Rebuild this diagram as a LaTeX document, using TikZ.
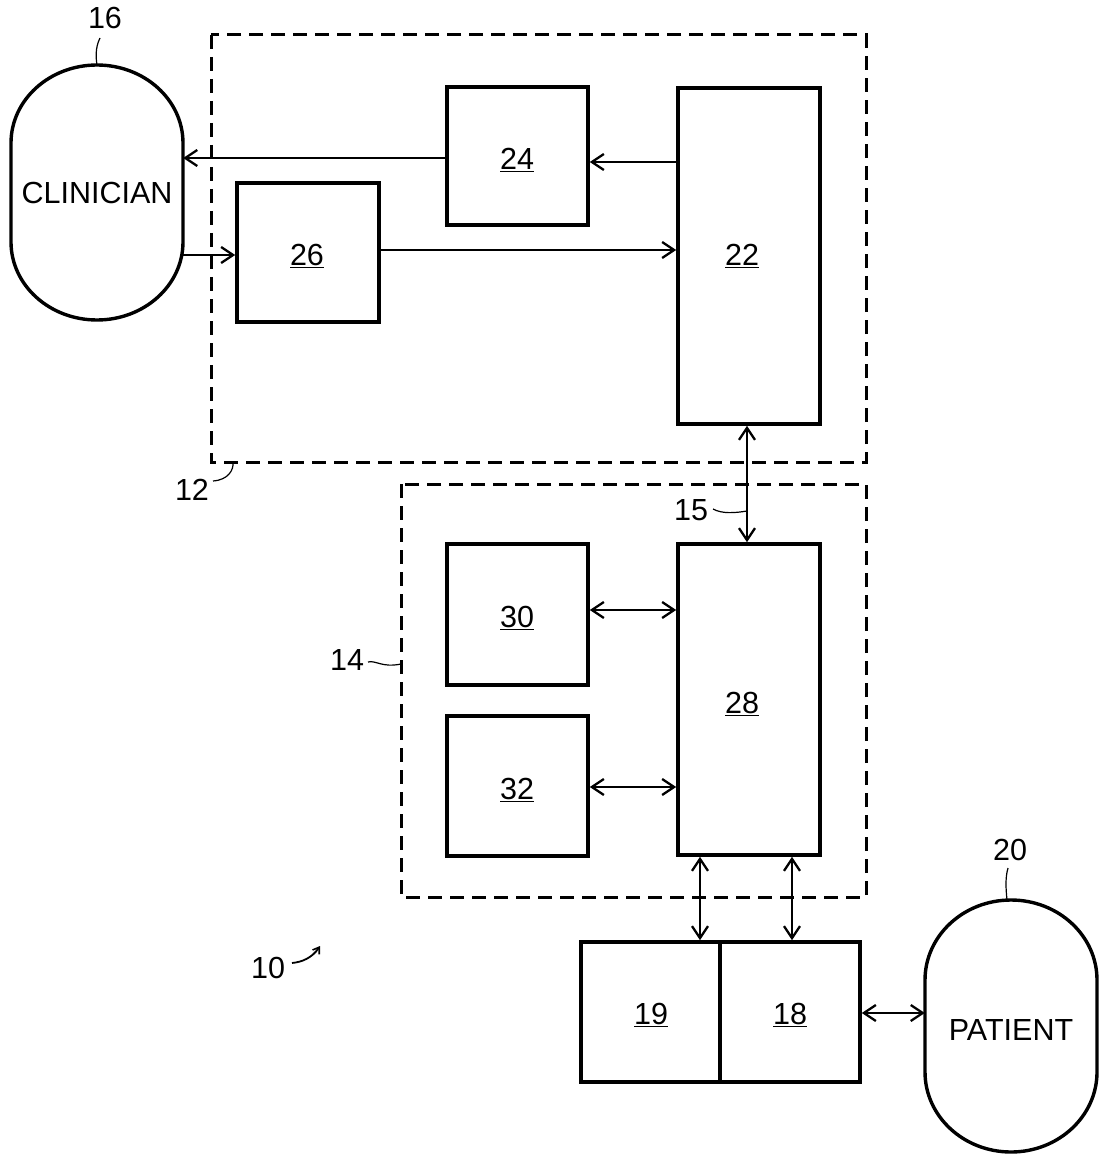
\documentclass[tikz,border=0pt]{standalone}
\usepackage{fontspec}
\setmainfont{Liberation Sans}
\usetikzlibrary{arrows.meta}
\begin{document}
\begin{tikzpicture}[x=1pt,y=-1pt,
  box/.style={draw, line width=3.6pt, inner sep=0pt},
  grp/.style={draw, line width=3pt, dash pattern=on 14pt off 8pt},
  conn/.style={line width=2.5pt, -{Straight Barb[length=12pt,width=16pt,line width=2.3pt]}},
  bconn/.style={line width=2.5pt, {Straight Barb[length=12pt,width=16pt,line width=2.3pt]}-{Straight Barb[length=12pt,width=16pt,line width=2.3pt]}},
  lead/.style={line width=1.2pt},
  lab/.style={font=\fontsize{30.5}{36}\selectfont, inner sep=0pt},
  capsule/.style={line width=3.4pt}]
\useasboundingbox (0,0) rectangle (1102,1155);

% group outlines
\draw[grp] (211,35) rectangle (866,462);
\draw[grp] (401,484) rectangle (866,897);

% boxes
\node[box, minimum width=141pt, minimum height=138pt] (b24) at (517.5,156) {};
\node[box, minimum width=142pt, minimum height=336pt] (b22) at (749,256) {};
\node[box, minimum width=142pt, minimum height=139pt] (b26) at (308,252.5) {};
\node[box, minimum width=142pt, minimum height=311pt] (b28) at (749,699.5) {};
\node[box, minimum width=141pt, minimum height=141pt] (b30) at (517.5,614.5) {};
\node[box, minimum width=141pt, minimum height=140pt] (b32) at (517.5,786) {};
\node[box, minimum width=139pt, minimum height=140pt] (b19) at (650.5,1012) {};
\node[box, minimum width=140pt, minimum height=140pt] (b18) at (790,1012) {};
\node[lab] (t24) at (517,160) {\underline{24}};
\node[lab] (t22) at (742,256) {\underline{22}};
\node[lab] (t26) at (307,256) {\underline{26}};
\node[lab] (t28) at (742,704) {\underline{28}};
\node[lab] (t30) at (517,618) {\underline{30}};
\node[lab] (t32) at (517,790) {\underline{32}};
\node[lab] (t19) at (651,1015) {\underline{19}};
\node[lab] (t18) at (790,1015) {\underline{18}};

% capsules
\node[inner sep=0pt, minimum width=172pt, minimum height=255pt] (clin) at (97,192.5) {};
\node[lab] (tclin) at (97,193) {CLINICIAN};
\draw[capsule] (11,143) -- (11,242)
  .. controls (11,285.1) and (49.5,320) .. (97,320)
  .. controls (144.5,320) and (183,285.1) .. (183,242)
  -- (183,143)
  .. controls (183,99.9) and (144.5,65) .. (97,65)
  .. controls (49.5,65) and (11,99.9) .. (11,143) -- cycle;
\node[inner sep=0pt, minimum width=172pt, minimum height=252pt] (pat) at (1011,1026) {};
\node[lab] (tpat) at (1011,1030) {PATIENT};
\draw[capsule] (925,980) -- (925,1072)
  .. controls (925,1116.2) and (963.5,1152) .. (1011,1152)
  .. controls (1058.5,1152) and (1097,1116.2) .. (1097,1072)
  -- (1097,980)
  .. controls (1097,935.8) and (1058.5,900) .. (1011,900)
  .. controls (963.5,900) and (925,935.8) .. (925,980) -- cycle;

% connectors
\draw[conn] (b22.west |- 0,162) -- (b24.east |- 0,162);
\draw[conn] (b24.west |- 0,158) -- (clin.east |- 0,158);
\draw[conn] (clin.east |- 0,255) -- (b26.west |- 0,255);
\draw[conn] (b26.east |- 0,250) -- (b22.west |- 0,250);
\draw[bconn] (747,0 |- b22.south) -- (747,0 |- b28.north);
\draw[bconn] (b30.east |- 0,610) -- (b28.west |- 0,610);
\draw[bconn] (b32.east |- 0,787) -- (b28.west |- 0,787);
\draw[bconn] (700,0 |- b28.south) -- (700,0 |- b19.north);
\draw[bconn] (792,0 |- b28.south) -- (792,0 |- b18.north);
\draw[bconn] (b18.east |- 0,1013) -- (pat.west |- 0,1013);

% reference labels
\node[lab] (l16) at (105,18) {16};
\draw[lead] (100,38) .. controls (95,48) and (96,58) .. (97,65);
\node[lab] (l12) at (192,490) {12};
\draw[lead] (213,481) .. controls (228,480) and (234,470) .. (233,462);
\node[lab] (l14) at (347,660) {14};
\draw[lead] (368,662) .. controls (376,660) and (382,668) .. (401,664);
\node[lab] (l15) at (691,510) {15};
\draw[lead] (713,509) .. controls (722,514) and (735,513) .. (747,511);
\node[lab] (l20) at (1010,850) {20};
\draw[lead] (1008,868) .. controls (1005,878) and (1006,890) .. (1007,900);
\node[lab] (l10) at (268,968) {10};
\draw[line width=1.8pt, -{Straight Barb[length=6pt,width=8pt,line width=1.6pt]}] (292,963) .. controls (302,962) and (312,958) .. (320,946);
\end{tikzpicture}
\end{document}
